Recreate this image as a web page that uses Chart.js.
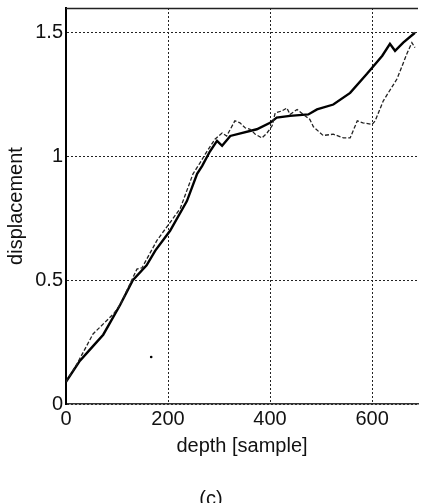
<!DOCTYPE html>
<html>
<head>
<meta charset="utf-8">
<script src="https://cdn.jsdelivr.net/npm/chart.js@4/dist/chart.umd.min.js"></script>
<style>
  html, body { margin: 0; padding: 0; background: #fff; }
  canvas { display: block; }
</style>
</head>
<body>
<canvas id="depthChart" width="422" height="503"></canvas>
<script>
// ---- data ----
const xTicks = [0, 200, 400, 600];
const yTicks = [0, 0.5, 1, 1.5];

// solid curve
const solidDepth = [0, 27, 53, 73, 106, 131, 158, 175, 204, 237, 257, 267, 282, 296, 306, 322, 374, 400, 413,
    439, 475, 492, 524, 557, 590, 603, 620, 635, 645, 661, 684];
const solidDisp = [0.09, 0.174, 0.234, 0.28, 0.40, 0.50, 0.56, 0.62, 0.70, 0.82, 0.93, 0.962, 1.02, 1.063, 1.043,
    1.083, 1.11, 1.136, 1.157, 1.164, 1.17, 1.19, 1.21, 1.257, 1.334, 1.366, 1.407, 1.455, 1.427, 1.46, 1.50];

// dashed curve
const dashDepth = [0, 21, 53, 93, 106, 139, 149, 178, 224, 249, 263, 273, 292, 306, 315, 331, 341, 351, 361, 371,
    384, 394, 404, 410, 423, 433, 439, 453, 465, 478, 485, 504, 524, 544, 557, 571, 582, 600, 606, 622, 649,
    668, 678, 684];
const dashDisp = [0.09, 0.16, 0.283, 0.364, 0.40, 0.545, 0.55, 0.66, 0.79, 0.93, 0.975, 1.01, 1.07, 1.095, 1.083,
    1.144, 1.136, 1.116, 1.11, 1.09, 1.075, 1.095, 1.124, 1.176, 1.184, 1.196, 1.17, 1.19, 1.17, 1.15, 1.12,
    1.085, 1.09, 1.075, 1.075, 1.144, 1.136, 1.13, 1.144, 1.225, 1.314, 1.414, 1.46, 1.44];

// stray speck in the scan
const speckDepth = [167];
const speckDisp = [0.19];

const toPoints = (xs, ys) => xs.map((x, i) => ({ x: x, y: ys[i] }));

const FONT = "'Liberation Sans', Arial, sans-serif";
const INK = '#111';

// top frame line (matlab box)
const framePlugin = {
    id: 'frame',
    afterDraw(chart) {
        const { ctx, chartArea: a } = chart;
        ctx.save();
        ctx.strokeStyle = '#222';
        ctx.lineWidth = 1.5;
        ctx.beginPath();
        ctx.moveTo(a.left, a.top + 0.5);
        ctx.lineTo(a.right, a.top + 0.5);
        ctx.stroke();
        ctx.restore();
    }
};

new Chart(document.getElementById('depthChart').getContext('2d'), {
    type: 'line',
    data: {
        datasets: [
            {
                label: 'dashed',
                data: toPoints(dashDepth, dashDisp),
                borderColor: '#222',
                borderWidth: 1.3,
                borderDash: [4, 2],
                pointRadius: 0,
                tension: 0
            },
            {
                label: 'solid',
                data: toPoints(solidDepth, solidDisp),
                borderColor: '#000',
                borderWidth: 2.4,
                pointRadius: 0,
                tension: 0
            },
            {
                label: 'speck',
                data: toPoints(speckDepth, speckDisp),
                showLine: false,
                pointRadius: 1.3,
                pointBackgroundColor: '#000',
                pointBorderWidth: 0
            }
        ]
    },
    options: {
        responsive: false,
        animation: false,
        layout: { padding: 0 },
        plugins: {
            legend: { display: false },
            tooltip: { enabled: false },
            title: {
                display: true,
                position: 'bottom',
                text: '(c)',
                color: INK,
                font: { family: FONT, size: 20, weight: 'normal', lineHeight: 0.4 },
                padding: { top: 37, bottom: 0 }
            }
        },
        scales: {
            x: {
                type: 'linear',
                min: 0,
                max: 690,
                afterBuildTicks: s => { s.ticks = xTicks.map(v => ({ value: v })); },
                ticks: {
                    color: INK,
                    padding: 3,
                    font: { family: FONT, size: 20 },
                    maxRotation: 0,
                    callback: v => String(v)
                },
                grid: { color: '#222', lineWidth: 1, drawTicks: false },
                border: { display: true, color: '#333', width: 1.5, dash: [2, 2] },
                title: {
                    display: true,
                    text: 'depth [sample]',
                    color: INK,
                    font: { family: FONT, size: 20 },
                    padding: { top: 0, bottom: 0 }
                }
            },
            y: {
                min: 0,
                max: 1.6,
                afterBuildTicks: s => { s.ticks = yTicks.map(v => ({ value: v })); },
                afterFit: s => { s.width = 66; },
                ticks: {
                    color: INK,
                    padding: 3,
                    font: { family: FONT, size: 20, lineHeight: 0.5 },
                    callback: v => String(v)
                },
                grid: { color: '#222', lineWidth: 1, drawTicks: false },
                border: { display: true, color: '#000', width: 2, dash: [2, 2] },
                title: {
                    display: true,
                    text: 'displacement',
                    color: INK,
                    font: { family: FONT, size: 20 },
                    padding: { top: 4, bottom: 0 }
                }
            }
        }
    },
    plugins: [framePlugin]
});
</script>
</body>
</html>
